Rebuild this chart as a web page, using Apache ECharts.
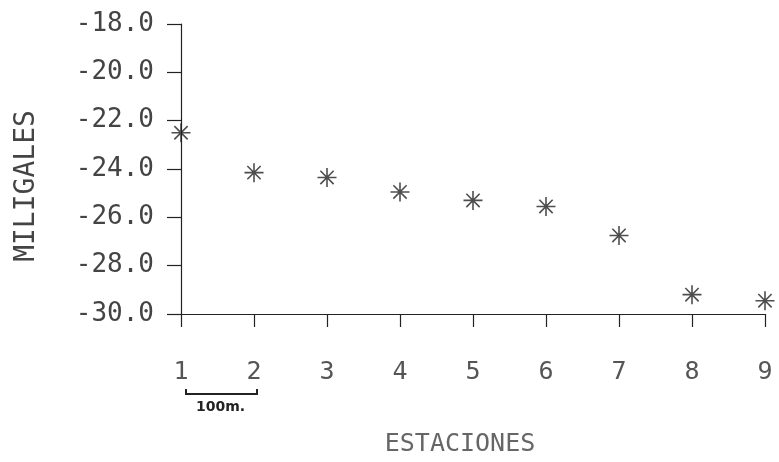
<!DOCTYPE html>
<html>
<head>
<meta charset="utf-8">
<script src="https://cdn.jsdelivr.net/npm/echarts@6/dist/echarts.min.js"></script>
<style>
	html, body { margin: 0; padding: 0; background: #fff; }
	#chart_box { width: 779px; height: 462px; }
</style>
</head>
<body>
<div id="chart_box"></div>
<script>
/*estaciones*/
var estaciones = [1, 2, 3, 4, 5, 6, 7, 8, 9];
/*miligales*/
var miligales = [-22.5, -24.15, -24.35, -24.95, -25.3, -25.55, -26.75, -29.2, -29.45];
/*eje Y*/
var yMin = -30, yMax = -18, yStep = 2;

var puntos = [];
for (var i = 0; i < estaciones.length; i++) {
	puntos.push([estaciones[i], miligales[i]]);
}

var ink = '#222';
var txt = '#444';
var mono = '"DejaVu Sans Mono", "Liberation Mono", monospace';

var myChart = echarts.init(document.getElementById('chart_box'));
var option = {
	backgroundColor: '#fff',
	animation: false,
	grid: { left: 181, right: 14, top: 24, bottom: 142 },
	xAxis: {
		type: 'value',
		min: 1,
		max: 9,
		interval: 1,
		name: 'ESTACIONES',
		nameLocation: 'middle',
		nameGap: 118,
		nameTextStyle: { fontFamily: mono, fontSize: 25, color: '#666', padding: [0, 26, 0, 0] },
		axisLine: { lineStyle: { color: ink, width: 1.2 } },
		axisTick: { length: 13, lineStyle: { color: ink, width: 1.2 } },
		axisLabel: { margin: 46, fontFamily: mono, fontSize: 25, color: '#555' },
		splitLine: { show: false }
	},
	yAxis: {
		type: 'value',
		min: yMin,
		max: yMax,
		interval: yStep,
		name: 'MILIGALES',
		nameLocation: 'middle',
		nameGap: 140,
		nameRotate: 90,
		nameTextStyle: { fontFamily: mono, fontSize: 28, color: txt, padding: [0, 34, 0, 0] },
		axisLine: { show: true, lineStyle: { color: ink, width: 1.2 } },
		axisTick: { show: true, length: 14, lineStyle: { color: ink, width: 1.2 } },
		axisLabel: {
			margin: 27,
			fontFamily: mono,
			fontSize: 26,
			color: txt,
			formatter: function(v) { return v.toFixed(1); }
		},
		splitLine: { show: false }
	},
	graphic: [
		{
			type: 'polyline',
			shape: { points: [[186, 389], [186, 394], [257, 394], [257, 389]] },
			style: { stroke: ink, lineWidth: 2, fill: null }
		},
		{
			type: 'text',
			left: 196,
			top: 400,
			style: { text: '100m.', font: 'bold 14px "DejaVu Sans", sans-serif', fill: ink }
		}
	],
	series: [{
		type: 'scatter',
		data: puntos,
		symbol: 'path://M10 0 L10 20 M0 10 L20 10 M3 3 L17 17 M17 3 L3 17',
		symbolSize: 19,
		itemStyle: { color: 'none', borderColor: ink, borderWidth: 1.6 },
		clip: false
	}]
};
myChart.setOption(option);
</script>
</body>
</html>
